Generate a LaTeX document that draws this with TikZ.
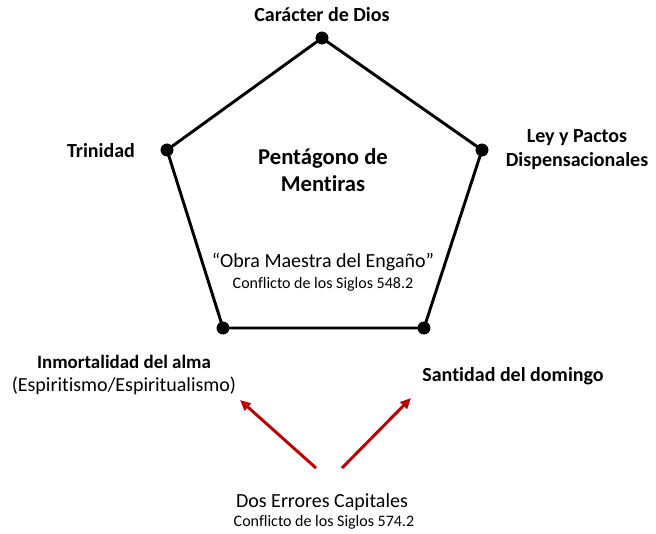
\documentclass[tikz,border=0pt]{standalone}
\usepackage{fontspec}
\setmainfont{Carlito}[Ligatures=NoCommon]
\usepackage{xcolor}
\usetikzlibrary{arrows.meta}
\definecolor{rojoflecha}{RGB}{192,0,0}

\begin{document}
\begin{tikzpicture}[x=0.75pt, y=-0.75pt, >={Triangle[length=8pt, width=7pt]},
    every node/.style={align=center},
    vertice/.style={circle, fill=black, inner sep=0pt, minimum size=9.5pt},
    lado/.style={line width=2.2pt, line join=round},
    etiqueta/.style={font=\fontsize{15}{18}\selectfont\bfseries},
    titulo/.style={font=\fontsize{17}{20}\selectfont\bfseries},
    cita/.style={font=\fontsize{15}{18}\selectfont},
    fuente/.style={font=\fontsize{12}{14}\selectfont},
    flecha/.style={->, rojoflecha, line width=2.2pt}]
  \useasboundingbox (0,0) rectangle (656,533);
  % vertices del pentagono
  \node[vertice] (dios) at (322,38) {};
  \node[vertice] (ley) at (482,150) {};
  \node[vertice] (domingo) at (424,328) {};
  \node[vertice] (alma) at (223,328) {};
  \node[vertice] (trinidad) at (167,150) {};
  \draw[lado] (dios.center) -- (ley.center) -- (domingo.center) -- (alma.center) -- (trinidad.center) -- cycle;
  \node[vertice] at (dios) {};
  \node[vertice] at (ley) {};
  \node[vertice] at (domingo) {};
  \node[vertice] at (alma) {};
  \node[vertice] at (trinidad) {};
  % etiquetas
  \node[etiqueta] (tdios) at (322,15) {Carácter de Dios};
  \node[etiqueta] (ttrinidad) at (101,151) {Trinidad};
  \node[etiqueta] (tley) at (577,150) {Ley y Pactos\\Dispensacionales};
  \node[etiqueta] (tdomingo) at (513,376) {Santidad del domingo};
  \node[etiqueta, font=\fontsize{14.2}{17}\selectfont\bfseries] (talma) at (124,362) {Inmortalidad del alma};
  \node[cita] (tespiritismo) at (124,386) {(Espiritismo/Espiritualismo)};
  % centro
  \node[titulo] (pentagono) at (323,170) {Pentágono de\\Mentiras};
  \node[cita] (obra) at (323,262) {“Obra Maestra del Engaño”};
  \node[fuente] (cs548) at (323,284) {Conflicto de los Siglos 548.2};
  % errores capitales
  \node[cita] (errores) at (322,502) {Dos Errores Capitales};
  \node[fuente] (cs574) at (324,522) {Conflicto de los Siglos 574.2};
  \coordinate (salidaA) at (316,468);
  \coordinate (salidaB) at (342,468);
  \coordinate (llegadaA) at (240,400);
  \coordinate (llegadaB) at (411,398);
  \draw[flecha] (salidaA) -- (llegadaA);
  \draw[flecha] (salidaB) -- (llegadaB);
\end{tikzpicture}
\end{document}
